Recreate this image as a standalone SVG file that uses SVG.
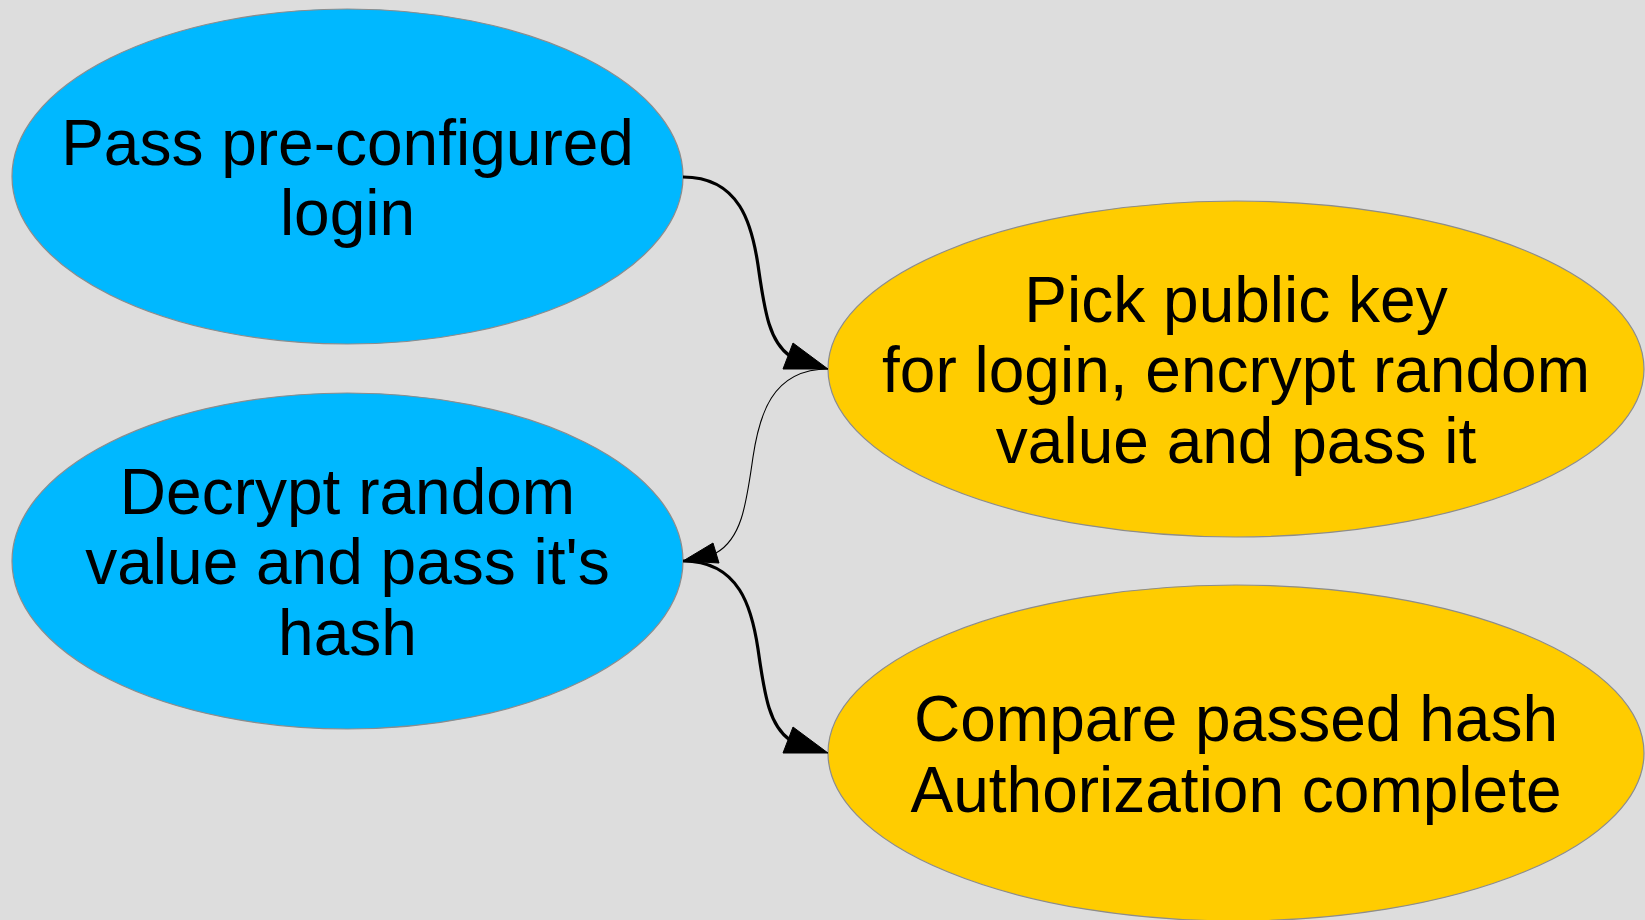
<svg xmlns="http://www.w3.org/2000/svg" width="1645" height="920" viewBox="0 0 1645 920">
<style>
.blue{fill:#00b8ff;stroke:#8c8c8c;stroke-width:1.2}
.yellow{fill:#ffcc00;stroke:#8c8c8c;stroke-width:1.2}
text{font-family:"Liberation Sans",Arial,sans-serif;font-size:64px;fill:#000;text-anchor:middle}
.thick{fill:none;stroke:#000;stroke-width:3.2}
.thin{fill:none;stroke:#000;stroke-width:1.1}
.head{fill:#000;stroke:#000;stroke-width:1}
</style>
<rect x="0" y="0" width="1645" height="920" fill="#dddddd"/>
<g id="n1">
<ellipse class="blue" cx="347.5" cy="176.5" rx="335.5" ry="167.5"/>
<text x="347.5" y="164.5">Pass pre-configured</text>
<text x="347.5" y="235">login</text>
</g>
<g id="n2">
<ellipse class="yellow" cx="1236" cy="369" rx="408" ry="168"/>
<text x="1236" y="321.5">Pick public key</text>
<text x="1236" y="392">for login, encrypt random</text>
<text x="1236" y="462.5">value and pass it</text>
</g>
<g id="n3">
<ellipse class="blue" cx="347.5" cy="561" rx="335.5" ry="168"/>
<text x="347.5" y="513.5">Decrypt random</text>
<text x="347.5" y="584">value and pass it's</text>
<text x="347.5" y="654.5">hash</text>
</g>
<g id="n4">
<ellipse class="yellow" cx="1236" cy="753" rx="408" ry="168"/>
<text x="1236" y="741">Compare passed hash</text>
<text x="1236" y="811.5">Authorization complete</text>
</g>
<g id="edges">
<path class="thick" d="M683,177 C740,177 752,225 758,265 C765,315 770,342 790,356"/>
<polygon class="head" points="828,369 793,343 783,369"/>
<path class="thin" d="M828,369 C771,369 759,417 753,457 C746,507 741,539 716,553"/>
<polygon class="head" points="683,561 713,543 719,563"/>
<path class="thick" d="M683,561 C740,561 752,609 758,649 C765,699 770,726 790,740"/>
<polygon class="head" points="828,753 793,727 783,753"/>
</g>
</svg>
